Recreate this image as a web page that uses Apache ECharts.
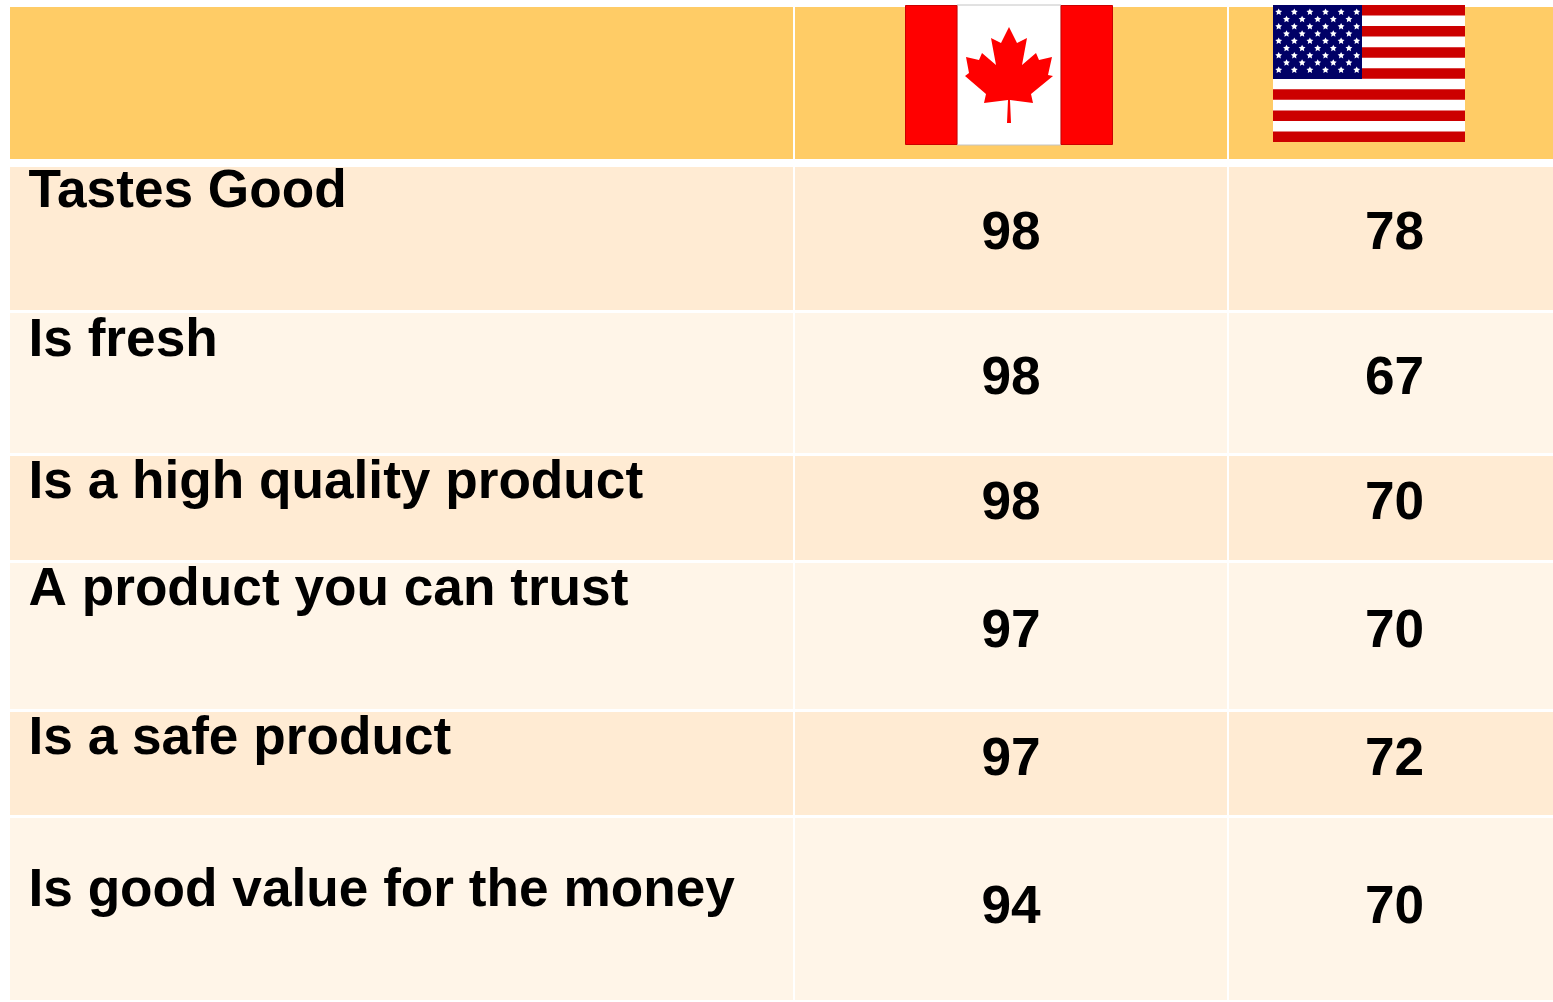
<!DOCTYPE html>
<html>
<head>
<meta charset="utf-8">
<style>
  html, body { margin: 0; padding: 0; background: #fff; }
  #chart { width: 1553px; height: 1002px; }
</style>
<script src="https://cdn.jsdelivr.net/npm/echarts@6/dist/echarts.min.js"></script>
</head>
<body>
<div id="chart"></div>
<script>
const categories = [
  'Tastes Good',
  'Is fresh',
  'Is a high quality product',
  'A product you can trust',
  'Is a safe product',
  'Is good value for the money'
];
const canada = [98, 98, 98, 97, 97, 94];
const usa = [78, 67, 70, 70, 72, 70];

// table layout, in page pixels
const colEdges = [[10, 793], [795, 1227], [1229, 1553]];
const headerEdge = [7, 159];
const rowEdges = [[167, 310], [313, 453], [456, 560], [563, 709], [712, 815], [818, 1000]];
const labelY = [192, 341, 483, 590, 739, 891];
const valueY = [234, 379, 504, 632, 760, 908];
const labelX = 28.5;
const canadaX = 1011;
const usaX = 1394.5;

const headerColor = '#ffcc66';
const bandColors = ['#ffebd3', '#fff5e8'];
const textFont = { fontFamily: '"Liberation Sans", Arial, sans-serif', fontWeight: 'bold', fontSize: 53.2, fill: '#000' };

const chart = echarts.init(document.getElementById('chart'), null, { renderer: 'canvas' });

const cellRect = (api, x, y, fill) => {
  const a = api.coord([x[0], y[0]]);
  const b = api.coord([x[1], y[1]]);
  return { type: 'rect', shape: { x: a[0], y: a[1], width: b[0] - a[0], height: b[1] - a[1] }, style: { fill } };
};

const cellText = (api, x, y, text, align) => {
  const p = api.coord([x, y]);
  return {
    type: 'text',
    x: p[0],
    y: p[1],
    style: { ...textFont, text, textAlign: align, textVerticalAlign: 'middle' }
  };
};

const renderRow = (params, api) => {
  const i = params.dataIndex;
  return {
    type: 'group',
    children: [
      ...colEdges.map(c => cellRect(api, c, rowEdges[i], bandColors[i % 2])),
      cellText(api, labelX, labelY[i], categories[i], 'left'),
      cellText(api, canadaX, valueY[i], String(api.value(1)), 'center'),
      cellText(api, usaX, valueY[i], String(api.value(2)), 'center')
    ]
  };
};

const renderHeader = (params, api) => cellRect(api, colEdges[params.dataIndex], headerEdge, headerColor);

// maple leaf outline, relative to the flag's top left corner
const leaf = [
  [104, 22], [112, 38], [122, 33], [117, 60], [131, 48], [134, 55], [147, 52],
  [143, 70], [148, 71], [126, 89], [128, 98], [105, 95], [106, 118], [102, 118],
  [103, 95], [79, 98], [81, 89], [60, 71], [64, 68], [61, 52], [74, 55],
  [77, 48], [91, 60], [86, 33], [96, 38]
];

const canadaFlag = () => ({
  type: 'group',
  x: 905,
  y: 5,
  silent: true,
  children: [
    { type: 'rect', z: 10, shape: { x: 52, y: 0, width: 104, height: 140 }, style: { fill: '#fff', stroke: '#c4c4c4', lineWidth: 1 } },
    { type: 'rect', z: 11, shape: { x: 0.5, y: 0.5, width: 51.5, height: 139 }, style: { fill: '#ff0000', stroke: '#cc0000', lineWidth: 1 } },
    { type: 'rect', z: 11, shape: { x: 156, y: 0.5, width: 51.5, height: 139 }, style: { fill: '#ff0000', stroke: '#cc0000', lineWidth: 1 } },
    { type: 'polygon', z: 11, shape: { points: leaf }, style: { fill: '#ff0000' } }
  ]
});

const starPoints = (cx, cy, r) => {
  const pts = [];
  for (let k = 0; k < 10; k++) {
    const rad = k % 2 ? r * 0.5 : r;
    const ang = -Math.PI / 2 + k * Math.PI / 5;
    pts.push([cx + rad * Math.cos(ang), cy + rad * Math.sin(ang)]);
  }
  return pts;
};

const usaFlag = () => {
  const stripeH = 137 / 13;
  const children = [{ type: 'rect', z: 10, shape: { x: 0, y: 0, width: 192, height: 137 }, style: { fill: '#fff' } }];
  for (let s = 0; s < 13; s += 2) {
    children.push({ type: 'rect', z: 11, shape: { x: 0, y: s * stripeH, width: 192, height: stripeH }, style: { fill: '#cc0000' } });
  }
  children.push({ type: 'rect', z: 12, shape: { x: 0, y: 0, width: 89, height: 74 }, style: { fill: '#000066' } });
  for (let r = 0; r < 9; r++) {
    const odd = r % 2 === 1;
    const n = odd ? 5 : 6;
    for (let c = 0; c < n; c++) {
      children.push({
        type: 'polygon',
        z: 13,
        shape: { points: starPoints(5.7 + (odd ? 7.8 : 0) + c * 15.6, 7 + r * 7.25, 3.6) },
        style: { fill: '#fff' }
      });
    }
  }
  return { type: 'group', x: 1273, y: 5, silent: true, children };
};

chart.setOption({
  animation: false,
  backgroundColor: '#fff',
  grid: { left: 0, right: 0, top: 0, bottom: 0 },
  xAxis: { type: 'value', min: 0, max: 1553, show: false },
  yAxis: { type: 'value', min: 0, max: 1002, inverse: true, show: false },
  tooltip: { show: false },
  series: [
    {
      type: 'custom',
      coordinateSystem: 'cartesian2d',
      renderItem: renderHeader,
      silent: true,
      data: colEdges.map((c, i) => [i, 0])
    },
    {
      type: 'custom',
      coordinateSystem: 'cartesian2d',
      renderItem: renderRow,
      silent: true,
      encode: { x: 0, y: 1 },
      data: categories.map((name, i) => [i, canada[i], usa[i]])
    }
  ],
  graphic: [canadaFlag(), usaFlag()]
});
</script>
</body>
</html>
